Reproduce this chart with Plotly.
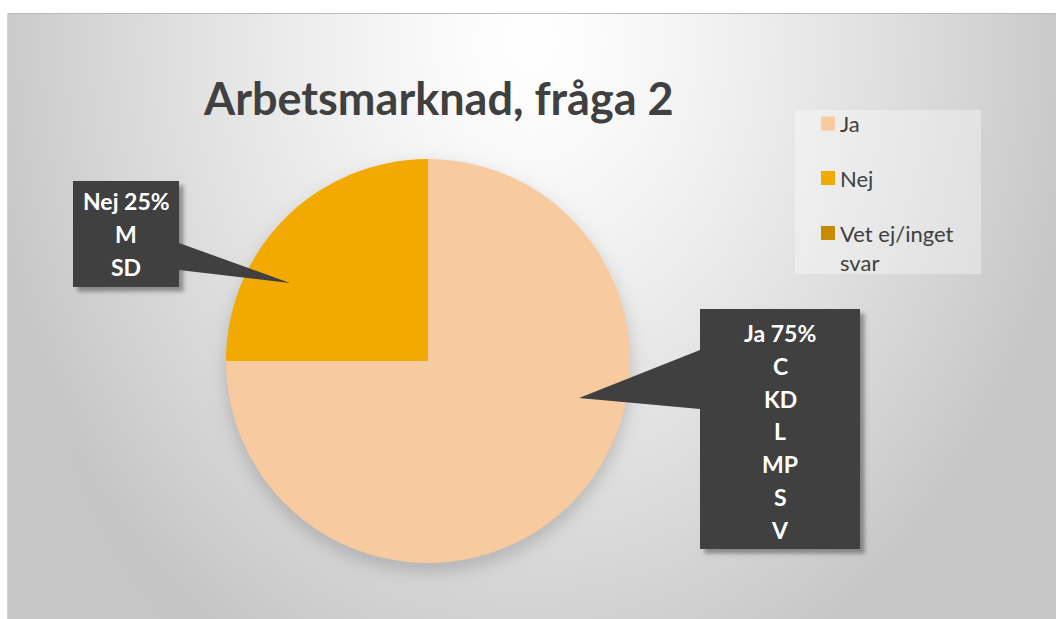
import base64
import struct
import textwrap
import zlib

import numpy as np
import plotly.graph_objects as go

# ---------------- data ----------------
labels = ["Ja", "Nej", "Vet ej/inget svar"]
values = [75, 25, 0]
colors = ["#F7CB9F", "#F2AA00", "#C68B00"]
parties_ja = ["C", "KD", "L", "MP", "S", "V"]
parties_nej = ["M", "SD"]
title_text = "Arbetsmarknad, fråga 2"

W, H = 1056, 619
FONT = "Lato"
DARK = "#404040"


def px(x):
    return x / W


def py(y):
    return 1 - y / H


# ---------------- background (gradient + soft shadows) ----------------
def make_png(arr):
    h, w, _ = arr.shape
    raw = b"".join(b"\x00" + arr[i].tobytes() for i in range(h))

    def chunk(tag, data):
        c = struct.pack(">I", len(data)) + tag + data
        return c + struct.pack(">I", zlib.crc32(tag + data) & 0xFFFFFFFF)

    return (b"\x89PNG\r\n\x1a\n" + chunk(b"IHDR", struct.pack(">IIBBBBB", w, h, 8, 2, 0, 0, 0))
            + chunk(b"IDAT", zlib.compress(raw, 9)) + chunk(b"IEND", b""))


yy, xx = np.mgrid[0:H, 0:W].astype(float)
r = np.sqrt(((xx - 530) / 560) ** 2 + ((yy - 40) / 700) ** 2)
v = 255 - 57 * np.clip(r, 0, 1) ** 1.3

# pie shadow
d = np.sqrt((xx - 428) ** 2 + (yy - 368) ** 2)
sh = 0.15 * 0.5 * (1 + np.tanh((204 - d) / 9))
v = v * (1 - sh)


def box_shadow(x0, y0, x1, y1, off=4, blur=2.5, a=0.35):
    fx = 0.5 * (1 + np.tanh((xx - x0 - off) / blur)) * 0.5 * (1 + np.tanh((x1 + off - xx) / blur))
    fy = 0.5 * (1 + np.tanh((yy - y0 - off) / blur)) * 0.5 * (1 + np.tanh((y1 + off - yy) / blur))
    return a * fx * fy


v = v * (1 - box_shadow(73, 181, 179, 287)) * (1 - box_shadow(700, 309, 860, 549))
v[:13, :] = 255
v[:, :7] = 255
v[13, 7:] = 188
v[13:, 7] = 215
img = np.clip(v, 0, 255).astype(np.uint8)
img = np.stack([img, img, img], axis=-1)
bg_src = "data:image/png;base64," + base64.b64encode(make_png(img)).decode()

# ---------------- figure ----------------
cx, cy, R = 428, 361, 202
fig = go.Figure(go.Pie(
    labels=labels, values=values, sort=False, direction="clockwise", rotation=0,
    marker=dict(colors=colors, line=dict(width=0)), textinfo="none", hoverinfo="label+percent",
    showlegend=False,
    domain=dict(x=[px(cx - R), px(cx + R)], y=[py(cy + R), py(cy - R)]),
))

shapes = []
annotations = []

# legend box
shapes.append(dict(type="rect", xref="paper", yref="paper", layer="below",
                   x0=px(795), x1=px(981), y0=py(274), y1=py(110),
                   fillcolor="rgba(255,255,255,0.35)", line=dict(width=0)))
leg_y = [123.5, 178, 233]
for lab, col, ly in zip(labels, colors, leg_y):
    shapes.append(dict(type="rect", xref="paper", yref="paper",
                       x0=px(821), x1=px(835), y0=py(ly + 7), y1=py(ly - 7),
                       fillcolor=col, line=dict(width=0)))
    for k, line in enumerate(textwrap.wrap(lab, 12)):
        annotations.append(dict(xref="paper", yref="paper", x=px(838), y=py(ly + k * 29),
                                xanchor="left", yanchor="middle", showarrow=False, text=line,
                                font=dict(family=FONT, size=22, color=DARK)))


def path(pts):
    return "M " + " L ".join(f"{px(x):.5f},{py(y):.5f}" for x, y in pts) + " Z"


# callouts
shapes.append(dict(type="path", xref="paper", yref="paper", layer="above",
                   path=path([(73, 181), (179, 181), (179, 243), (290, 283), (179, 270),
                              (179, 287), (73, 287)]),
                   fillcolor="#404040", line=dict(width=0)))
shapes.append(dict(type="path", xref="paper", yref="paper", layer="above",
                   path=path([(700, 309), (860, 309), (860, 549), (700, 549), (700, 409),
                              (579, 398), (700, 350)]),
                   fillcolor="#404040", line=dict(width=0)))

total = sum(values)
callouts = [
    ([f"{labels[0]} {round(values[0] / total * 100)}%"] + parties_ja, 780, 333),
    ([f"{labels[1]} {round(values[1] / total * 100)}%"] + parties_nej, 126, 201),
]
for lines, tx, ty in callouts:
    for k, line in enumerate(lines):
        annotations.append(dict(xref="paper", yref="paper", x=px(tx), y=py(ty + k * 32.8),
                                xanchor="center", yanchor="middle", showarrow=False, text=line,
                                font=dict(family=FONT, size=23, color="white", weight="bold")))

annotations.append(dict(xref="paper", yref="paper", x=px(438), y=py(98), xanchor="center",
                        yanchor="middle", showarrow=False, text=title_text,
                        font=dict(family=FONT, size=45, color=DARK, weight="bold")))

fig.update_layout(
    width=W, height=H, margin=dict(l=0, r=0, t=0, b=0),
    paper_bgcolor="white", plot_bgcolor="rgba(0,0,0,0)",
    images=[dict(source=bg_src, xref="paper", yref="paper", x=0, y=1, sizex=1, sizey=1,
                 xanchor="left", yanchor="top", sizing="stretch", layer="below")],
    shapes=shapes, annotations=annotations,
)
fig.write_html("out.html", config={"displayModeBar": False},
               post_script="document.body.style.margin='0';")
